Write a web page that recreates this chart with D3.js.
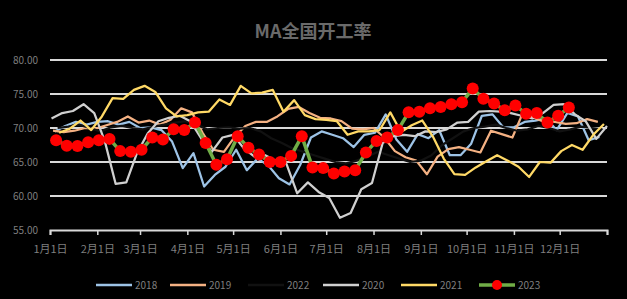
<!DOCTYPE html>
<html>
<head>
<meta charset="utf-8">
<script src="https://cdn.jsdelivr.net/npm/d3@7"></script>
<style>
  html, body { margin: 0; padding: 0; background: #000; }
  svg { display: block; font-family: "Noto Sans CJK SC", "Liberation Sans", sans-serif; }
</style>
</head>
<body>
<div id="app"></div>
<script>
// weekly values, plotted on a single Jan-Dec calendar
const years = ['2018', '2019', '2022', '2020', '2021', '2023'];
const firstDays = [4, 3, 6, 2, 7, 5]; // first weekly reading in January

const values2018 = [69.5, 70.3, 70.9, 70.5, 70.9, 71.0, 70.5, 70.9, 70.0, 70.1,
	69.7, 68.0, 64.1, 66.3, 61.4, 63.1, 64.3, 66.8, 63.8, 65.5,
	64.5, 62.6, 61.7, 64.6, 68.6, 69.5, 69.0, 68.5, 67.2, 69.0,
	69.3, 72.0, 68.3, 66.5, 69.1, 68.5, 69.7, 66.0, 66.0, 67.7,
	71.8, 72.0, 70.1, 70.1, 70.9, 71.1, 71.4, 69.7, 72.2, 71.7,
	68.2, 68.7];
const values2019 = [69.6, 69.4, 69.6, 70.0, 69.9, 70.4, 70.9, 71.7, 70.8, 71.1,
	70.5, 71.2, 72.9, 72.3, 69.3, 66.8, 66.5, 68.7, 70.3, 70.9,
	70.9, 71.7, 72.8, 73.1, 72.2, 71.5, 71.4, 71.0, 69.9, 69.8,
	70.0, 68.6, 66.6, 65.7, 65.2, 63.2, 65.8, 66.9, 67.2, 66.8,
	66.4, 69.6, 69.1, 68.6, 72.3, 71.5, 70.9, 70.9, 70.6, 70.7,
	71.3, 70.9];
const values2022 = [70.0, 70.2, 70.5, 70.0, 69.5, 70.1, 70.3, 70.0, 69.8, 70.2,
	70.5, 70.8, 71.0, 70.5, 69.8, 70.0, 70.1, 69.9, 70.0, 69.5,
	68.5, 67.8, 67.0, 66.5, 66.0, 65.5, 65.0, 64.8, 65.2, 65.8,
	66.5, 66.0, 65.5, 65.0, 65.2, 66.0, 67.5, 68.5, 69.5, 70.0,
	70.2, 70.5, 70.0, 69.6, 69.8, 70.3, 70.0, 69.5, 69.8, 70.2,
	70.0, 69.8];
const values2020 = [71.4, 72.2, 72.5, 73.5, 72.2, 68.0, 61.8, 62.0, 66.3, 69.2,
	71.0, 71.5, 71.8, 71.0, 68.5, 66.5, 68.6, 69.0, 67.0, 65.8,
	66.0, 65.2, 64.7, 60.4, 62.0, 60.6, 59.7, 56.8, 57.5, 61.0,
	61.9, 67.8, 68.8, 69.0, 68.8, 69.5, 69.4, 69.8, 70.8, 70.9,
	72.4, 72.5, 72.4, 72.2, 71.8, 71.4, 72.2, 73.4, 73.5, 72.0,
	71.0, 68.4, 70.3];
const values2021 = [69.3, 69.9, 71.1, 69.7, 71.7, 74.4, 74.3, 75.6, 76.2, 75.3,
	72.9, 71.7, 71.9, 72.3, 72.4, 74.2, 73.4, 76.2, 75.1, 75.2,
	75.6, 72.4, 74.1, 71.9, 71.3, 71.2, 71.0, 69.0, 69.5, 69.5,
	69.7, 72.3, 69.4, 70.4, 71.1, 68.7, 65.5, 63.2, 63.1, 64.2,
	65.1, 66.0, 65.2, 64.3, 62.8, 65.0, 64.9, 66.6, 67.5, 66.8,
	69.0, 70.6];
const values2023 = [68.2, 67.4, 67.35, 67.9, 68.2, 68.4, 66.6, 66.5, 66.8, 68.6,
	68.3, 69.8, 69.7, 70.8, 67.8, 64.6, 65.4, 68.8, 67.1, 66.1,
	65.0, 65.0, 65.9, 68.8, 64.2, 64.1, 63.3, 63.6, 63.8, 66.4,
	68.1, 68.6, 69.7, 72.3, 72.4, 72.9, 73.1, 73.5, 73.8, 75.8,
	74.3, 73.6, 72.6, 73.3, 72.1, 72.2, 70.8, 71.8, 73.0];

const seriesValues = [values2018, values2019, values2022, values2020, values2021, values2023];
const colors = ['#9dc3e6', '#f4b183', '#111111', '#d0d0d0', '#ffd966', '#70ad47'];

const yTicks = [55, 60, 65, 70, 75, 80];
const monthLabels = ['1月1日', '2月1日', '3月1日', '4月1日', '5月1日', '6月1日',
	'7月1日', '8月1日', '9月1日', '10月1日', '11月1日', '12月1日'];

const width = 627;
const height = 299;

const svg = d3.select('#app')
	.append('svg')
	.attr('width', width)
	.attr('height', height);

const x = d3.scaleTime()
	.domain([new Date(2023, 0, 1), new Date(2024, 0, 1)])
	.range([50, 607]);

const y = d3.scaleLinear().domain([55, 80]).range([230, 60]);

// title
svg.append('text')
	.attr('x', 313)
	.attr('y', 38)
	.attr('text-anchor', 'middle')
	.attr('font-size', 18)
	.attr('font-weight', 'bold')
	.attr('fill', '#6a6a6a')
	.text('MA全国开工率');

// gridlines + y labels
svg.append('g')
	.selectAll('line')
	.data(yTicks.filter((d) => d > 55))
	.join('line')
	.attr('x1', 50)
	.attr('x2', 607)
	.attr('y1', (d) => y(d))
	.attr('y2', (d) => y(d))
	.attr('stroke', '#d9d9d9')
	.attr('stroke-width', 2);

svg.append('g')
	.selectAll('text')
	.data(yTicks)
	.join('text')
	.attr('x', 38)
	.attr('y', (d) => y(d))
	.attr('dy', '0.35em')
	.attr('text-anchor', 'end')
	.attr('font-size', 10)
	.attr('fill', '#7f7f7f')
	.text((d) => d.toFixed(2));

// x axis
const monthTicks = d3.range(12).map((m) => new Date(2023, m, 1));
const xAxis = d3.axisBottom(x)
	.tickValues(monthTicks.concat([new Date(2024, 0, 1)]))
	.tickSize(5)
	.tickPadding(10)
	.tickFormat((d) => (d.getFullYear() === 2023 ? monthLabels[d.getMonth()] : ''));

svg.append('g')
	.attr('transform', `translate(0,${y(55)})`)
	.call(xAxis)
	.call((g) => {
		g.select('.domain').attr('stroke', '#d9d9d9').attr('stroke-width', 2);
		g.selectAll('.tick line').attr('stroke', '#d9d9d9').attr('stroke-width', 1.5);
		g.selectAll('.tick text')
			.attr('fill', '#7f7f7f')
			.attr('font-size', 11)
			.attr('font-family', '"Noto Sans CJK SC", sans-serif');
	});

// build weekly points for each year
const series = years.map((year, k) => ({
	year,
	color: colors[k],
	points: seriesValues[k].map((v, i) => ({
		date: d3.timeDay.offset(new Date(2023, 0, firstDays[k]), i * 7),
		value: v,
	})),
}));

const line = d3.line()
	.x((d) => x(d.date))
	.y((d) => y(d.value));

svg.append('g')
	.selectAll('path')
	.data(series)
	.join('path')
	.attr('fill', 'none')
	.attr('stroke', (d) => d.color)
	.attr('stroke-width', (d) => (d.year === '2023' ? 3.5 : 2.25))
	.attr('stroke-linejoin', 'round')
	.attr('d', (d) => line(d.points));

// red markers on the current year
const current = series[series.length - 1];
svg.append('g')
	.selectAll('circle')
	.data(current.points)
	.join('circle')
	.attr('cx', (d) => x(d.date))
	.attr('cy', (d) => y(d.value))
	.attr('r', 6)
	.attr('fill', '#ff0000');

// legend
const legendX = [96, 170, 248, 323, 401, 479];
const legend = svg.append('g')
	.selectAll('g')
	.data(series)
	.join('g')
	.attr('transform', (d, i) => `translate(${legendX[i]},285)`);

legend.append('line')
	.attr('x1', 0)
	.attr('x2', 36)
	.attr('stroke', (d) => d.color)
	.attr('stroke-width', (d) => (d.year === '2023' ? 3.5 : 2.5));

legend.filter((d) => d.year === '2023')
	.append('circle')
	.attr('cx', 18)
	.attr('r', 5)
	.attr('fill', '#ff0000');

legend.append('text')
	.attr('x', 39)
	.attr('dy', '0.35em')
	.attr('font-size', 10)
	.attr('fill', '#7f7f7f')
	.text((d) => d.year);
</script>
</body>
</html>
